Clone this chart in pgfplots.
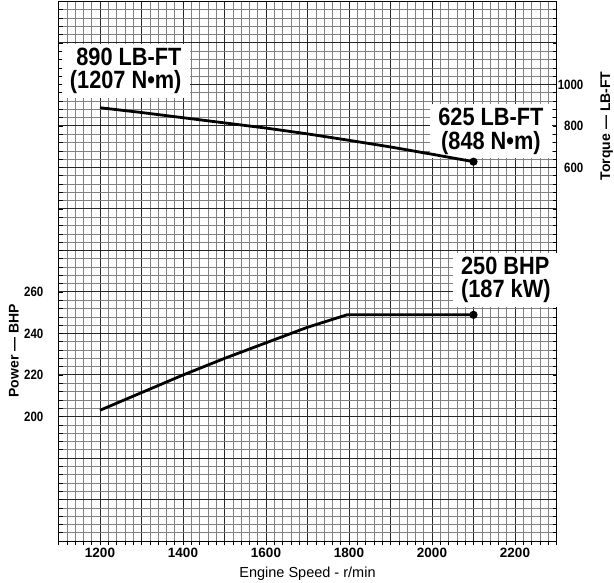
\documentclass[border=0pt]{standalone}
\usepackage{pgfplots}
\pgfplotsset{compat=1.18}
\usepackage{fontspec}
\setmainfont{Liberation Sans}
\newfontfamily\condfont[FakeStretch=0.87]{Liberation Sans}
\newfontfamily\tickfont[FakeStretch=0.85]{Liberation Sans}

\pgfplotsset{
  base/.style={width=498pt, height=539.5pt, scale only axis,
    xmin=1100, xmax=2300, at={(0,0)}, anchor=south west,
    /pgf/number format/assume math mode=true,
    /pgf/number format/1000 sep={}}
}
\tikzset{
  lbl/.style={fill=white, inner xsep=8pt, inner ysep=4pt,
    font=\condfont\bfseries\fontsize{25}{23.5}\selectfont}
}

\begin{document}
\begin{tikzpicture}
% grid axis
\begin{axis}[base, ymin=0, ymax=13, clip=false,
  xtick={1100,1200,...,2300},
  xticklabels={,1200,,1400,,1600,,1800,,2000,,2200,},
  minor x tick num=4,
  ytick={0,...,13}, yticklabels={}, minor y tick num=4,
  grid=both,
  major grid style={black!85, line width=1pt},
  minor grid style={black!50, line width=0.6pt},
  axis line style={black, line width=1pt},
  xtick pos=left, xtick align=outside,
  major tick length=4pt, minor tick length=4pt,
  tick style={black, line width=0.6pt},
  x tick label style={font=\bfseries\fontsize{13.5}{14}\selectfont},
  xlabel={Engine Speed - r/min},
  xlabel style={font=\fontsize{14.5}{15}\selectfont, yshift=-2pt},
]
\end{axis}

% torque axis
\begin{axis}[base, ymin=-1200, ymax=1400, clip=false,
  axis x line=none, axis y line*=right,
  axis line style={black, line width=1pt},
  ytick={600,800,1000}, ytick style={draw=none},
  yticklabel style={font=\tickfont\bfseries\fontsize{13.5}{14}\selectfont,
    anchor=east, inner sep=0pt, xshift=27pt},
]
\node[lbl, align=right] at (axis cs:1262,1066) {890 LB-FT\\(1207 N•m)};
\node[lbl, align=center] at (axis cs:2142,774) {625 LB-FT\\(848 N•m)};
\node[rotate=90, font=\bfseries\fontsize{14}{14}\selectfont]
  at ([xshift=50.2pt]axis cs:2300,801) {Torque — LB-FT};
\addplot[black, line width=2.8pt, mark=*, mark size=2.6pt,
  mark indices={10}, mark options={solid}] coordinates {
  (1200,888) (1300,865) (1400,840) (1500,815) (1600,790)
  (1700,762) (1800,731) (1900,699) (2000,664) (2100,628)
};
\end{axis}

% power axis
\begin{axis}[base, ymin=140, ymax=400, clip=false,
  axis x line=none, axis y line*=left,
  axis line style={black, line width=1pt},
  ytick={200,220,240,260}, ytick style={draw=none},
  yticklabel style={font=\tickfont\bfseries\fontsize{13.5}{14}\selectfont,
    anchor=east, inner sep=0pt, xshift=-15pt},
]
\node[lbl, align=left] at (axis cs:2178,265.8) {250 BHP\\(187 kW)};
\node[rotate=90, font=\bfseries\fontsize{14}{14}\selectfont]
  at ([xshift=-44.5pt]axis cs:1100,231.7) {Power — BHP};
\addplot[black, line width=2.8pt, mark=*, mark size=2.6pt,
  mark indices={8}, mark options={solid}] coordinates {
  (1200,203) (1300,211.5) (1400,220) (1500,228) (1600,235.5)
  (1700,243) (1795,249) (2100,249)
};
\end{axis}

\pgfresetboundingbox
\path[use as bounding box] (-58.5pt,-41pt) rectangle (555.5pt,541pt);
\end{tikzpicture}
\end{document}
